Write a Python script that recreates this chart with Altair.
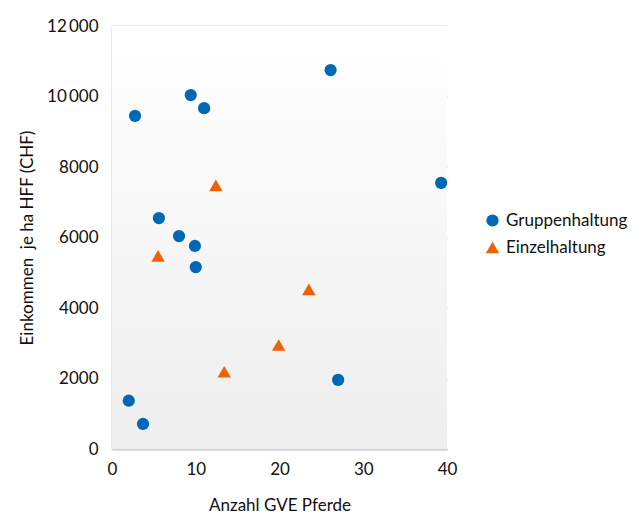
import altair as alt
import pandas as pd

grp_x = [2.75, 9.4, 11.0, 26.1, 5.6, 8.0, 9.9, 10.0, 39.3, 27.0, 2.0, 3.7]
grp_y = [9450, 10040, 9670, 10750, 6550, 6040, 5760, 5160, 7550, 1960, 1370, 710]
ein_x = [12.4, 5.5, 13.4, 19.9, 23.5]
ein_y = [7480, 5480, 2190, 2950, 4530]
series = ["Gruppenhaltung", "Einzelhaltung"]
colors = ["#0068B4", "#EB6209"]
shapes = ["circle", "triangle-up"]
sizes = [150, 180]

df = pd.DataFrame(
    {
        "x": grp_x + ein_x,
        "y": grp_y + ein_y,
        "s": [series[0]] * len(grp_x) + [series[1]] * len(ein_x),
    }
)

FONT = "Lato"
FS = 17
W, H = 335, 423

xscale = alt.Scale(domain=[0, 40], nice=False)
yscale = alt.Scale(domain=[0, 12000], nice=False)

bg = alt.Chart(pd.DataFrame({"a": [0]})).mark_rect(
    color=alt.Gradient(
        gradient="linear",
        x1=0, y1=0, x2=0, y2=1,
        stops=[
            alt.GradientStop(color="#ffffff", offset=0),
            alt.GradientStop(color="#eeeeee", offset=1),
        ],
    )
).encode(
    x=alt.datum(0, scale=xscale),
    x2=alt.datum(40),
    y=alt.datum(0, scale=yscale),
    y2=alt.datum(12000),
)

pts = alt.Chart(df).mark_point(filled=True, opacity=1).encode(
    x=alt.X(
        "x:Q",
        scale=xscale,
        title="Anzahl GVE Pferde",
        axis=alt.Axis(
            values=[0, 10, 20, 30, 40],
            grid=False,
            ticks=False,
            labelFlush=False,
            domainColor="#d4d4d4",
            domainWidth=2,
            labelPadding=12,
            titlePadding=20,
        ),
    ),
    y=alt.Y(
        "y:Q",
        scale=yscale,
        title="Einkommen \u00a0je ha HFF (CHF)",
        axis=alt.Axis(
            values=[0, 2000, 4000, 6000, 8000, 10000, 12000],
            grid=True,
            gridColor="#d4d4d4",
            gridWidth=2,
            ticks=False,
            labelFlush=False,
            domainColor="#d4d4d4",
            domainWidth=2,
            labelPadding=14,
            titlePadding=10,
            labelExpr="datum.value >= 10000 ? replace(format(datum.value, ','), ',', '\u2009') : format(datum.value, 'd')",
        ),
    ),
    color=alt.Color(
        "s:N",
        scale=alt.Scale(domain=series, range=colors),
        title=None,
        legend=alt.Legend(
            orient="none",
            legendX=372,
            legendY=186,
            symbolSize=130,
            rowPadding=9,
            labelOffset=5,
        ),
    ),
    shape=alt.Shape("s:N", scale=alt.Scale(domain=series, range=shapes), title=None),
    size=alt.Size("s:N", scale=alt.Scale(domain=series, range=sizes), legend=None),
)

chart = (
    alt.layer(bg, pts)
    .properties(
        width=W,
        height=H,
        autosize=alt.AutoSizeParams(type="none"),
        padding={"left": 104, "top": 18, "right": 180, "bottom": 66},
    )
    .configure_view(stroke=None)
    .configure_axis(
        labelFont=FONT,
        titleFont=FONT,
        labelFontSize=FS,
        titleFontSize=FS,
        labelColor="#111111",
        titleColor="#111111",
        titleFontWeight="normal",
    )
    .configure_legend(labelFont=FONT, labelFontSize=FS, labelColor="#111111")
)

chart.save("out.html", embed_options={"renderer": "svg", "actions": False})
